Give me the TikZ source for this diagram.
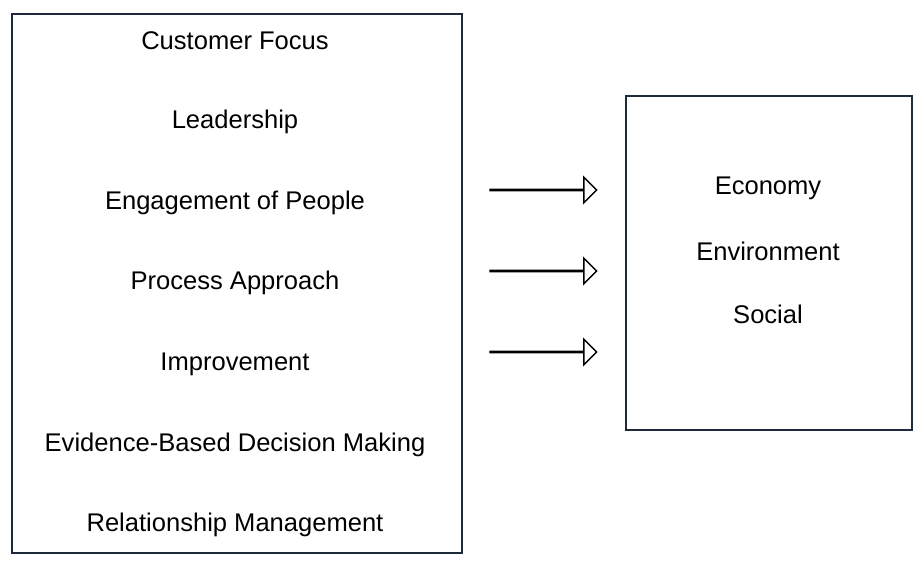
\documentclass[tikz,border=0pt]{standalone}
\usepackage{fontspec}
\setmainfont{Liberation Sans}
\usetikzlibrary{shapes.arrows}
\definecolor{frame}{HTML}{1F2A3A}
\tikzset{
  panel/.style={draw=frame, line width=2pt},
  item/.style={font=\fontsize{20.5}{24}\selectfont, text=black},
  flow/.style={single arrow, draw=black, line width=1.2pt, fill=white,
    minimum height=3.0cm, minimum width=0.62cm,
    single arrow head extend=0.34cm, inner sep=0pt},
}
\begin{document}
\begin{tikzpicture}[x=0.0282cm, y=-0.0282cm]
  \useasboundingbox (0,0) rectangle (921,561);
  \draw[panel] (12,14) rectangle (462,553);
  \draw[panel] (626,96) rectangle (912,430);
  \node[item] (cf) at (235,41)  {Customer Focus};
  \node[item] (ld) at (235,122) {Leadership};
  \node[item] (ep) at (235,203) {Engagement of People};
  \node[item] (pa) at (235,283) {Process Approach};
  \node[item] (im) at (235,364) {Improvement};
  \node[item] (ed) at (235,445) {Evidence-Based Decision Making};
  \node[item] (rm) at (235,525) {Relationship Management};
  \node[item] (ec) at (768,188) {Economy};
  \node[item] (en) at (768,251) {Environment};
  \node[item] (so) at (768,314) {Social};
  \foreach \y/\n in {190/a1, 271/a2, 352/a3}
    \node[flow] (\n) at (543,\y) {};
\end{tikzpicture}
\end{document}
